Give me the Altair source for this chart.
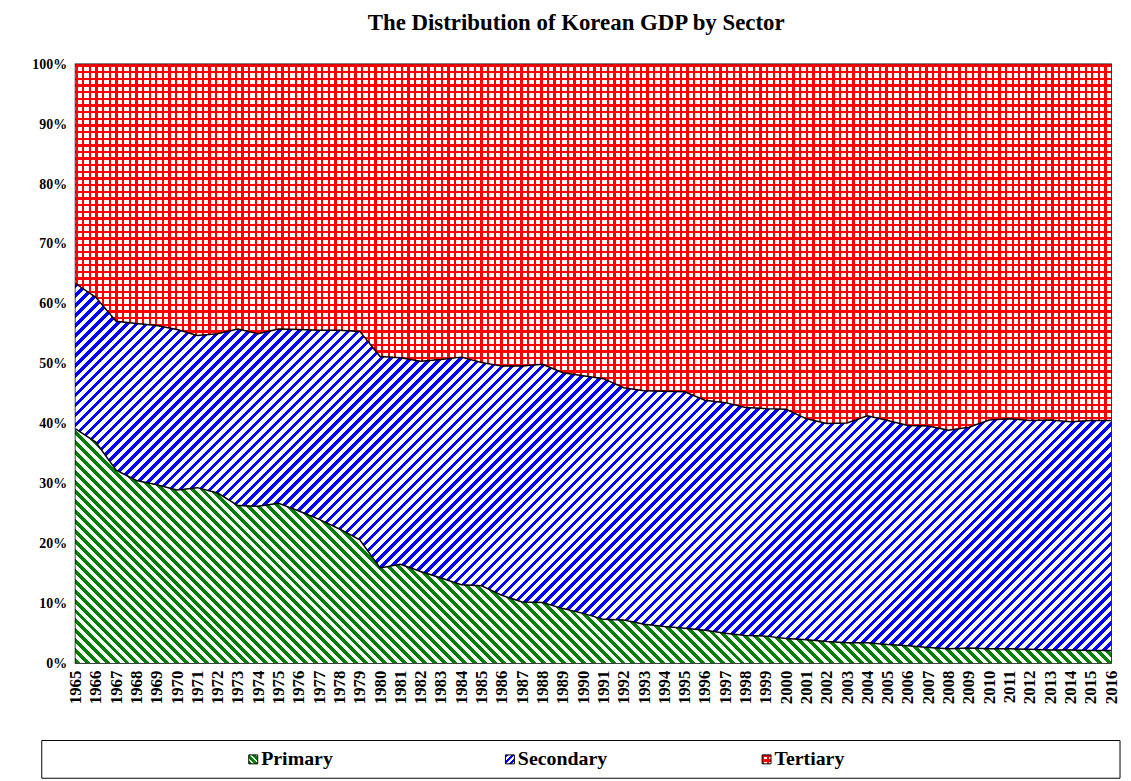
import altair as alt
import pandas as pd

# ---------------- data ----------------
years = [1965, 1966, 1967, 1968, 1969, 1970, 1971, 1972, 1973, 1974,
         1975, 1976, 1977, 1978, 1979, 1980, 1981, 1982, 1983, 1984,
         1985, 1986, 1987, 1988, 1989, 1990, 1991, 1992, 1993, 1994,
         1995, 1996, 1997, 1998, 1999, 2000, 2001, 2002, 2003, 2004,
         2005, 2006, 2007, 2008, 2009, 2010, 2011, 2012, 2013, 2014,
         2015, 2016]

primary = [39.1, 36.9, 32.2, 30.5, 29.8, 28.9, 29.3, 28.4, 26.3, 26.2,
           26.7, 25.4, 24.0, 22.4, 20.6, 15.9, 16.5, 15.3, 14.2, 13.1,
           12.9, 11.3, 10.2, 10.1, 9.1, 8.3, 7.3, 7.2, 6.5, 6.1,
           5.8, 5.5, 5.0, 4.6, 4.5, 4.1, 3.9, 3.6, 3.4, 3.4,
           3.1, 2.9, 2.6, 2.4, 2.5, 2.4, 2.4, 2.3, 2.2, 2.2,
           2.1, 2.1]

secondary = [24.3, 24.2, 24.9, 26.2, 26.6, 26.8, 25.4, 26.6, 29.5, 28.8,
             29.1, 30.3, 31.6, 33.2, 34.8, 35.3, 34.5, 35.1, 36.5, 38.0,
             37.3, 38.3, 39.4, 39.8, 39.4, 39.7, 40.2, 38.8, 39.0, 39.3,
             39.5, 38.4, 38.5, 38.1, 38.0, 38.3, 36.9, 36.4, 36.7, 37.9,
             37.4, 36.8, 37.0, 36.5, 36.9, 38.2, 38.4, 38.2, 38.4, 38.1,
             38.4, 38.4]

tertiary = [36.6, 38.9, 42.9, 43.3, 43.6, 44.3, 45.3, 45.0, 44.2, 45.0,
            44.2, 44.3, 44.4, 44.4, 44.6, 48.8, 49.0, 49.6, 49.3, 48.9,
            49.8, 50.4, 50.4, 50.1, 51.5, 52.0, 52.5, 54.0, 54.5, 54.6,
            54.7, 56.1, 56.5, 57.3, 57.5, 57.6, 59.2, 60.0, 59.9, 58.7,
            59.5, 60.3, 60.4, 61.1, 60.6, 59.4, 59.2, 59.5, 59.4, 59.7,
            59.5, 59.5]

sectors = ["Primary", "Secondary", "Tertiary"]
y_ticks = [0, 10, 20, 30, 40, 50, 60, 70, 80, 90, 100]
title_text = "The Distribution of Korean GDP by Sector"

# ---------------- layout / style ----------------
PLOT_W, PLOT_H = 1043, 603
FONT = "Liberation Serif"
GREEN = "#008000"
BLUE = "#0000ff"
RED = "#ff0000"
WHITE = "#ffffff"
CLEAR = "rgba(255,255,255,0)"

df = pd.DataFrame({"year": years, "primary": primary,
                   "secondary": secondary, "tertiary": tertiary})
df["base"] = 0.0
df["cum1"] = df["primary"]
df["cum2"] = df["primary"] + df["secondary"]
df["cum3"] = df["cum2"] + df["tertiary"]


# ---------------- hatch patterns built from linear gradients ----------------
def stripe_stops(c_on, c_off, n, frac):
    stops = []
    for i in range(n):
        a = round(i / n, 6)
        b = round((i + frac) / n, 6)
        e = round((i + 1) / n, 6)
        stops += [{"offset": a, "color": c_on}, {"offset": b, "color": c_on},
                  {"offset": b, "color": c_off}, {"offset": e, "color": c_off}]
    return stops


def diag_grad(bw, bh, period, c_on, c_off, frac, down):
    k = (bw + bh) / (bw ** 2 + bh ** 2)
    n = max(1, round((bw + bh) / period))
    stops = stripe_stops(c_on, c_off, n, frac)
    if down:   # "\" stripes
        return {"gradient": "linear", "x1": 0, "y1": 1,
                "x2": k * bw, "y2": 1 - k * bh, "stops": stops}
    return {"gradient": "linear", "x1": 0, "y1": 0,   # "/" stripes
            "x2": k * bw, "y2": k * bh, "stops": stops}


def lines_grad(size, period, c_on, c_off, frac, horizontal):
    n = max(1, round(size / period))
    stops = stripe_stops(c_on, c_off, n, frac)
    if horizontal:
        return {"gradient": "linear", "x1": 0, "y1": 0, "x2": 0, "y2": 1, "stops": stops}
    return {"gradient": "linear", "x1": 0, "y1": 0, "x2": 1, "y2": 0, "stops": stops}


h_green = df["cum1"].max() / 100 * PLOT_H
h_blue = (df["cum2"].max() - df["cum1"].min()) / 100 * PLOT_H
h_red = (df["cum3"].max() - df["cum2"].min()) / 100 * PLOT_H

green_fill = diag_grad(PLOT_W, h_green, 10, GREEN, WHITE, 0.5, True)
blue_fill = diag_grad(PLOT_W, h_blue, 10, BLUE, WHITE, 0.45, False)
red_h_fill = lines_grad(h_red, 6.7, RED, WHITE, 0.35, True)
red_v_fill = lines_grad(PLOT_W, 6.7, RED, CLEAR, 0.35, False)

# ---------------- main chart ----------------
x_axis = alt.Axis(values=years, format="d", labelAngle=-90, labelFont=FONT,
                  labelFontWeight="bold", labelFontSize=17, labelColor="black",
                  labelPadding=7, ticks=False, domain=False, grid=False,
                  labelOverlap=False, title=None)
y_axis = alt.Axis(values=y_ticks, labelExpr="datum.value + '%'", labelFont=FONT,
                  labelFontWeight="bold", labelFontSize=14, labelColor="black",
                  labelPadding=9, ticks=False, domain=False, grid=False, title=None)
x_enc = alt.X("year:Q", scale=alt.Scale(domain=[1965, 2016], nice=False, zero=False),
              axis=x_axis, title=None)
y_scale = alt.Scale(domain=[0, 100], nice=False)


def y_enc(field):
    return alt.Y(field, type="quantitative", scale=y_scale, axis=y_axis, title=None)


base = alt.Chart(df)
area_primary = base.mark_area(fill=green_fill, opacity=1).encode(
    x=x_enc, y=y_enc("cum1"), y2=alt.Y2("base"))
area_secondary = base.mark_area(fill=blue_fill, opacity=1).encode(
    x=x_enc, y=y_enc("cum2"), y2=alt.Y2("cum1"))
area_tertiary_h = base.mark_area(fill=red_h_fill, opacity=1).encode(
    x=x_enc, y=y_enc("cum3"), y2=alt.Y2("cum2"))
area_tertiary_v = base.mark_area(fill=red_v_fill, opacity=1).encode(
    x=x_enc, y=y_enc("cum3"), y2=alt.Y2("cum2"))
line1 = base.mark_line(color="black", strokeWidth=1.5).encode(x=x_enc, y=y_enc("cum1"))
line2 = base.mark_line(color="black", strokeWidth=1.5).encode(x=x_enc, y=y_enc("cum2"))

main = alt.layer(area_primary, area_secondary, area_tertiary_h, area_tertiary_v,
                 line1, line2)

# ---------------- legend (below the plot) ----------------
leg_df = pd.DataFrame({"sector": sectors})
LEG_Y = PLOT_H + 97
lx = alt.X("sector:N", sort=sectors,
           scale=alt.Scale(type="point", domain=sectors, range=[179, 696], padding=0),
           axis=None)
leg = alt.Chart(leg_df)

box = alt.Chart(pd.DataFrame({"k": [0]})).mark_rect(
    filled=False, stroke="black", strokeWidth=1).encode(
    x=alt.value(-34), x2=alt.value(PLOT_W + 9),
    y=alt.value(PLOT_H + 78), y2=alt.value(PLOT_H + 116))

SW = 9
sq_primary = leg.transform_filter(alt.datum.sector == "Primary").mark_square(
    size=SW * SW, fill=diag_grad(SW, SW, 6, GREEN, WHITE, 0.6, True),
    stroke="black", strokeWidth=1, opacity=1).encode(x=lx, y=alt.value(LEG_Y))
sq_secondary = leg.transform_filter(alt.datum.sector == "Secondary").mark_square(
    size=SW * SW, fill=diag_grad(SW, SW, 6, BLUE, WHITE, 0.6, False),
    stroke="black", strokeWidth=1, opacity=1).encode(x=lx, y=alt.value(LEG_Y))
sq_tertiary_h = leg.transform_filter(alt.datum.sector == "Tertiary").mark_square(
    size=SW * SW, fill=lines_grad(SW, 4.5, RED, WHITE, 0.5, True),
    opacity=1).encode(x=lx, y=alt.value(LEG_Y))
sq_tertiary_v = leg.transform_filter(alt.datum.sector == "Tertiary").mark_square(
    size=SW * SW, fill=lines_grad(SW, 4.5, RED, CLEAR, 0.5, False),
    stroke="black", strokeWidth=1, opacity=1).encode(x=lx, y=alt.value(LEG_Y))
labels = leg.mark_text(align="left", baseline="middle", dx=8, font=FONT,
                       fontWeight="bold", fontSize=20, color="black").encode(
    x=lx, y=alt.value(LEG_Y), text="sector:N")

legend = alt.layer(box, sq_primary, sq_secondary, sq_tertiary_h, sq_tertiary_v, labels)

chart = alt.layer(main, legend).resolve_scale(x="independent").properties(
    width=PLOT_W, height=PLOT_H,
    title=alt.TitleParams(title_text, font=FONT, fontSize=23, fontWeight="bold",
                          color="black", anchor="middle", frame="bounds", offset=23),
    autosize=alt.AutoSizeParams(type="none"),
    padding={"left": 68, "top": 54, "right": 12, "bottom": 116},
).configure_view(stroke="black", strokeWidth=1.5)

chart.save("out.html", embed_options={"renderer": "svg", "actions": False})
